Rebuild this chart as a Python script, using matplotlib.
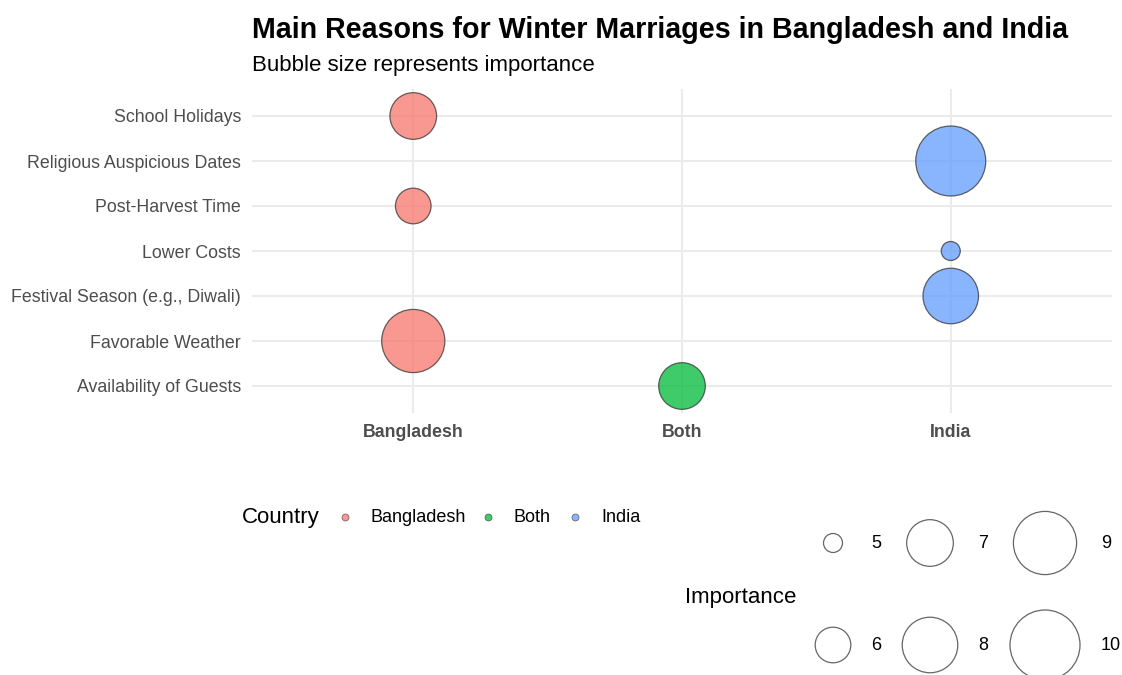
import matplotlib.pyplot as plt

# data
reasons = ['School Holidays', 'Religious Auspicious Dates', 'Post-Harvest Time',
           'Lower Costs', 'Festival Season (e.g., Diwali)', 'Favorable Weather',
           'Availability of Guests']
country = ['Bangladesh', 'India', 'Bangladesh', 'India', 'India', 'Bangladesh', 'Both']
importance = [7, 10, 6, 5, 8, 9, 7]

countries = ['Bangladesh', 'Both', 'India']
colors = {'Bangladesh': '#F8766D', 'Both': '#00BA38', 'India': '#619CFF'}
legend_sizes = [5, 6, 7, 8, 9, 10]

plt.rcParams['font.family'] = ['Liberation Sans', 'DejaVu Sans']

W, H = 1122, 675
fig = plt.figure(figsize=(W / 100, H / 100), dpi=100)

def size_pts(v):
    # diameter in px, area linear in value (like scale_size)
    d2 = 19 ** 2 + (v - 5) / 5 * (70 ** 2 - 19 ** 2)
    return d2 * 0.72 ** 2

# panel
left, right, top, bottom = 252, 1112, 89, 413
ax = fig.add_axes([left / W, 1 - bottom / H, (right - left) / W, (bottom - top) / H])

y_order = sorted(reasons)  # alphabetical from bottom
ypos = [y_order.index(r) for r in reasons]
xpos = [countries.index(c) for c in country]
ax.scatter(xpos, ypos, s=[size_pts(v) for v in importance],
           c=[colors[c] for c in country], alpha=0.75, edgecolors='#333333',
           linewidths=0.9, zorder=3)

ax.set_xlim(-0.6, 2.6)
ax.set_ylim(-0.6, len(reasons) - 0.4)
ax.set_xticks(range(3))
ax.set_xticklabels(countries, fontsize=12.8, fontweight='bold', color='#4D4D4D')
ax.set_yticks(range(len(y_order)))
ax.set_yticklabels(y_order, fontsize=12.8, color='#4D4D4D')
ax.tick_params(length=0, pad=8)
ax.grid(True, color='#EBEBEB', linewidth=1.5)
ax.set_axisbelow(True)
for s in ax.spines.values():
    s.set_visible(False)

fig.text(left / W, 1 - 30 / H, 'Main Reasons for Winter Marriages in Bangladesh and India',
         fontsize=20.6, fontweight='bold', va='center', ha='left')
fig.text(left / W, 1 - 66 / H, 'Bubble size represents importance',
         fontsize=16, va='center', ha='left')

# legends drawn in pixel space
lg = fig.add_axes([0, 0, 1, 1])
lg.set_xlim(0, W)
lg.set_ylim(H, 0)
lg.axis('off')

lg.text(242, 517, 'Country', fontsize=16, va='center', ha='left')
for c, dx, tx in zip(countries, [345, 488, 575], [371, 514, 601]):
    lg.scatter([dx], [517], s=(7 * 0.72) ** 2, color=colors[c], alpha=0.75,
               edgecolors='#333333', linewidths=0.5)
    lg.text(tx, 517, c, fontsize=13, va='center', ha='left')

lg.text(685, 597, 'Importance', fontsize=16, va='center', ha='left')
for i, v in enumerate(legend_sizes):
    col, row = i // 2, i % 2
    cx = [833, 930, 1045][col]
    cy = [543, 645][row]
    lg.scatter([cx], [cy], s=size_pts(v), facecolors='none', edgecolors='#666666',
               linewidths=0.9)
    lg.text([871, 978, 1101][col], cy, str(v), fontsize=13, va='center', ha='left')

fig.savefig('out.png', dpi=100)
